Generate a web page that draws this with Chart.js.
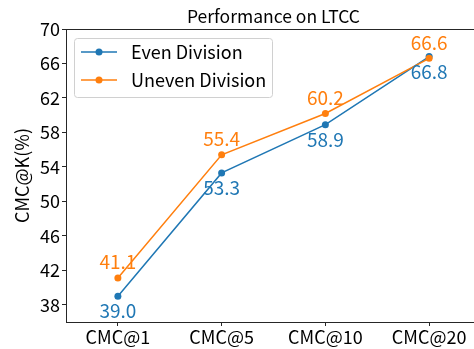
<!DOCTYPE html>
<html>
<head>
<meta charset="utf-8">
<script src="https://cdn.jsdelivr.net/npm/chart.js@4.4.1/dist/chart.umd.min.js"></script>
<style>
  html, body { margin: 0; padding: 0; background: #fff; overflow: hidden; }
  #wrap { width: 474px; height: 349px; overflow: hidden; position: relative; }
  #box { width: 500px; height: 349px; }
</style>
</head>
<body>
<div id="wrap"><div id="box"><canvas id="c"></canvas></div></div>
<script>
const categories = ['CMC@1', 'CMC@5', 'CMC@10', 'CMC@20'];
const evenDivision = [39.0, 53.3, 58.9, 66.8];
const unevenDivision = [41.1, 55.4, 60.2, 66.6];
const yTicks = [38, 42, 46, 50, 54, 58, 62, 66, 70];

const FONT = "'Noto Sans CJK SC', 'Noto Sans', sans-serif";
const BLUE = '#1f77b4';
const ORANGE = '#ff7f0e';
const AXIS = '#262626';

// Axes frame, title, value labels and the in-plot legend
const decorations = {
  id: 'decorations',
  afterDatasetsDraw(chart) {
    const ctx = chart.ctx;
    const a = chart.chartArea;
    ctx.save();
    // full frame around the plot
    ctx.strokeStyle = AXIS;
    ctx.lineWidth = 1;
    ctx.strokeRect(Math.round(a.left) + 0.5, Math.round(a.top) + 0.5,
                   Math.round(a.right - a.left), Math.round(a.bottom - a.top));

    // title
    ctx.fillStyle = '#000';
    ctx.font = `17.5px ${FONT}`;
    ctx.textAlign = 'center';
    ctx.textBaseline = 'middle';
    ctx.fillText('Performance on LTCC', (a.left + a.right) / 2, 16);

    // value labels: uneven above, even below
    ctx.font = `19px ${FONT}`;
    chart.data.datasets.forEach((ds, i) => {
      const meta = chart.getDatasetMeta(i);
      meta.data.forEach((pt, j) => {
        ctx.fillStyle = ds.borderColor;
        const dy = ds.labelSide === 'above' ? -16 : 15;
        ctx.fillText(ds.data[j].toFixed(1), pt.x, pt.y + dy);
      });
    });

    // legend
    const lx = 74.5, ly = 38.5, lw = 198, lh = 59;
    ctx.beginPath();
    ctx.roundRect(lx, ly, lw, lh, 3);
    ctx.fillStyle = 'rgba(255,255,255,0.85)';
    ctx.fill();
    ctx.strokeStyle = '#d0d0d0';
    ctx.lineWidth = 1;
    ctx.stroke();
    [0, 1].forEach((i, k) => {
      const ds = chart.data.datasets[i];
      const y = 52 + k * 28;
      ctx.strokeStyle = ds.borderColor;
      ctx.lineWidth = 1.5;
      ctx.beginPath();
      ctx.moveTo(81, y);
      ctx.lineTo(117, y);
      ctx.stroke();
      ctx.fillStyle = ds.borderColor;
      ctx.beginPath();
      ctx.arc(99, y, 3.5, 0, Math.PI * 2);
      ctx.fill();
      ctx.fillStyle = '#000';
      ctx.textAlign = 'left';
      ctx.font = `18px ${FONT}`;
      ctx.fillText(ds.label, 131, y);
    });
    ctx.restore();
  }
};

new Chart(document.getElementById('c'), {
  type: 'line',
  data: {
    labels: categories,
    datasets: [
      {
        label: 'Even Division',
        data: evenDivision,
        borderColor: BLUE,
        backgroundColor: BLUE,
        borderWidth: 1.5,
        pointRadius: 3.5,
        pointBorderWidth: 0,
        pointBackgroundColor: BLUE,
        labelSide: 'below',
        order: 1,
        tension: 0
      },
      {
        label: 'Uneven Division',
        data: unevenDivision,
        borderColor: ORANGE,
        backgroundColor: ORANGE,
        borderWidth: 1.5,
        pointRadius: 3.5,
        pointBorderWidth: 0,
        pointBackgroundColor: ORANGE,
        labelSide: 'above',
        order: 0,
        tension: 0
      }
    ]
  },
  options: {
    responsive: true,
    maintainAspectRatio: false,
    animation: false,
    layout: { padding: { top: 29, right: 19, left: 0, bottom: 0 } },
    plugins: {
      legend: { display: false },
      title: { display: false },
      tooltip: { enabled: false }
    },
    scales: {
      x: {
        type: 'category',
        offset: true,
        grid: { display: true, drawOnChartArea: false, drawTicks: true, tickLength: 4, color: AXIS, offset: false },
        border: { display: true, color: AXIS, width: 1 },
        ticks: { color: '#000', font: { family: FONT, size: 18 }, padding: 0, maxRotation: 0 },
        afterFit(scale) { scale.height = 27; }
      },
      y: {
        type: 'linear',
        min: 36,
        max: 70,
        afterBuildTicks(scale) { scale.ticks = yTicks.map(v => ({ value: v })); },
        grid: { display: true, drawOnChartArea: false, drawTicks: true, tickLength: 4, color: AXIS },
        border: { display: true, color: AXIS, width: 1 },
        ticks: { color: '#000', font: { family: FONT, size: 18 }, padding: 2 },
        title: { display: true, text: 'CMC@K(%)', color: '#000', font: { family: FONT, size: 18 }, padding: { top: 11, bottom: 0 } },
        afterFit(scale) { scale.width = 66; }
      }
    }
  },
  plugins: [decorations]
});
</script>
</body>
</html>
